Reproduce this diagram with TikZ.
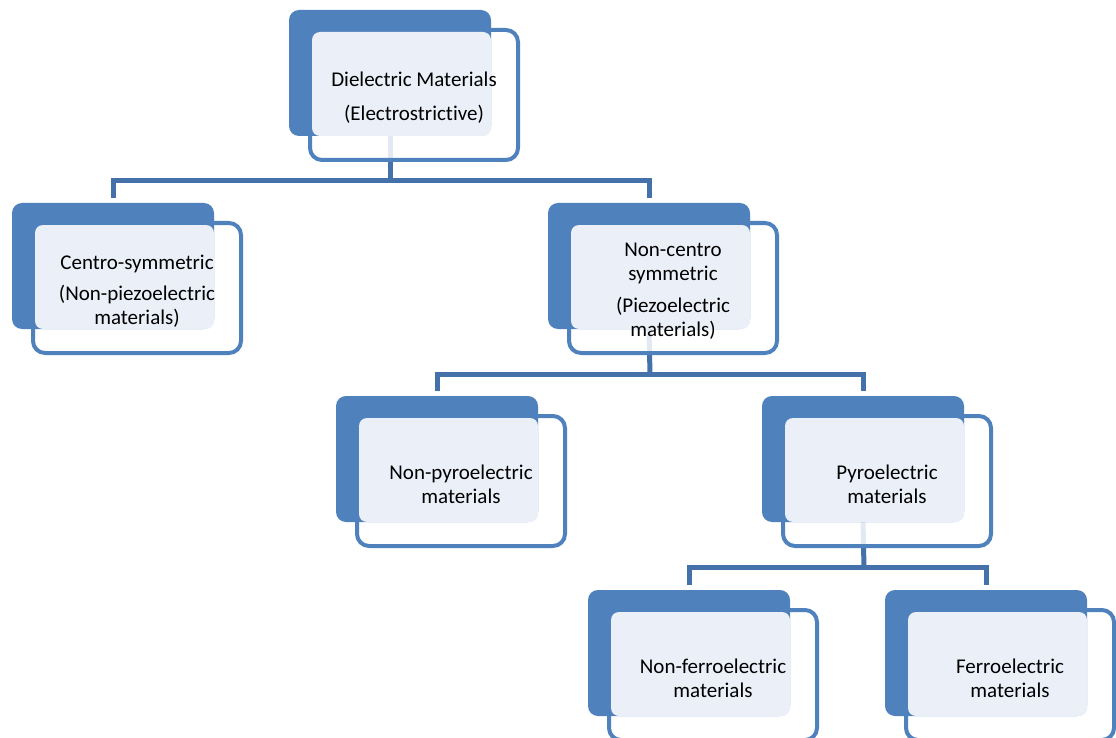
\documentclass[tikz,border=0pt]{standalone}
\usepackage{fontspec}
\setmainfont[Ligatures={NoCommon}]{Carlito}
\usetikzlibrary{calc}
\definecolor{backblue}{HTML}{4F81BD}
\definecolor{linkblue}{HTML}{4571AA}
\definecolor{lightfill}{HTML}{EBF0F8}
\pgfdeclarelayer{bg}
\pgfsetlayers{bg,main}
\newcommand\hunit[4]{%
  \node[frontbox] (#1f) at (#2+21,#3+20) {};
  \node[backbox] (#1b) at (#2,#3) {};
  \fill[lightfill, rounded corners=8pt] ($(#1f.north west)+(2,2)$) rectangle (#1b.south east);
  \node[txt] (#1t) at ($(#1f.center)+(0,3)$) {#4};
}
\begin{document}
\begin{tikzpicture}[x=1pt,y=-1pt,
  backbox/.style={draw=none, fill=backblue, rounded corners=10pt, minimum width=202pt, minimum height=126pt, inner sep=0pt, outer sep=0pt, anchor=north west},
  frontbox/.style={draw=backblue, line width=4pt, fill=white, fill opacity=0.85, rounded corners=12pt, minimum width=208pt, minimum height=130pt, inner sep=0pt, outer sep=0pt, anchor=north west},
  txt/.style={align=center, font=\fontsize{21}{24}\selectfont, text=black, inner sep=0pt},
  conn/.style={draw=linkblue, line width=5pt}]
\useasboundingbox (0,0) rectangle (1116,738);
\hunit{A}{289}{10}{Dielectric Materials\\[10pt](Electrostrictive)}
\hunit{B}{12}{203}{Centro-symmetric\\[7pt](Non-piezoelectric\\materials)}
\hunit{C}{548}{203}{Non-centro\\symmetric\\[8pt](Piezoelectric\\materials)}
\hunit{D}{336}{396}{Non-pyroelectric\\materials}
\hunit{E}{762}{396}{Pyroelectric\\materials}
\hunit{F}{588}{590}{Non-ferroelectric\\materials}
\hunit{G}{885}{590}{Ferroelectric\\materials}
\coordinate (jA) at (390,180.5);
\coordinate (jC) at (650,374);
\coordinate (jE) at (864,567.5);
\begin{pgfonlayer}{bg}
\draw[conn] (Ab.south) -- (jA);
\draw[conn] ($(Bb.north)-(0,5)$) |- (jA) -| ($(Cb.north)-(0,5)$);
\draw[conn] (Cb.south) -- (jC);
\draw[conn] ($(Db.north)-(0,5)$) |- (jC) -| ($(Eb.north)-(0,5)$);
\draw[conn] (Eb.south) -- (jE);
\draw[conn] ($(Fb.north)-(0,5)$) |- (jE) -| ($(Gb.north)-(0,5)$);
\end{pgfonlayer}
\end{tikzpicture}
\end{document}
